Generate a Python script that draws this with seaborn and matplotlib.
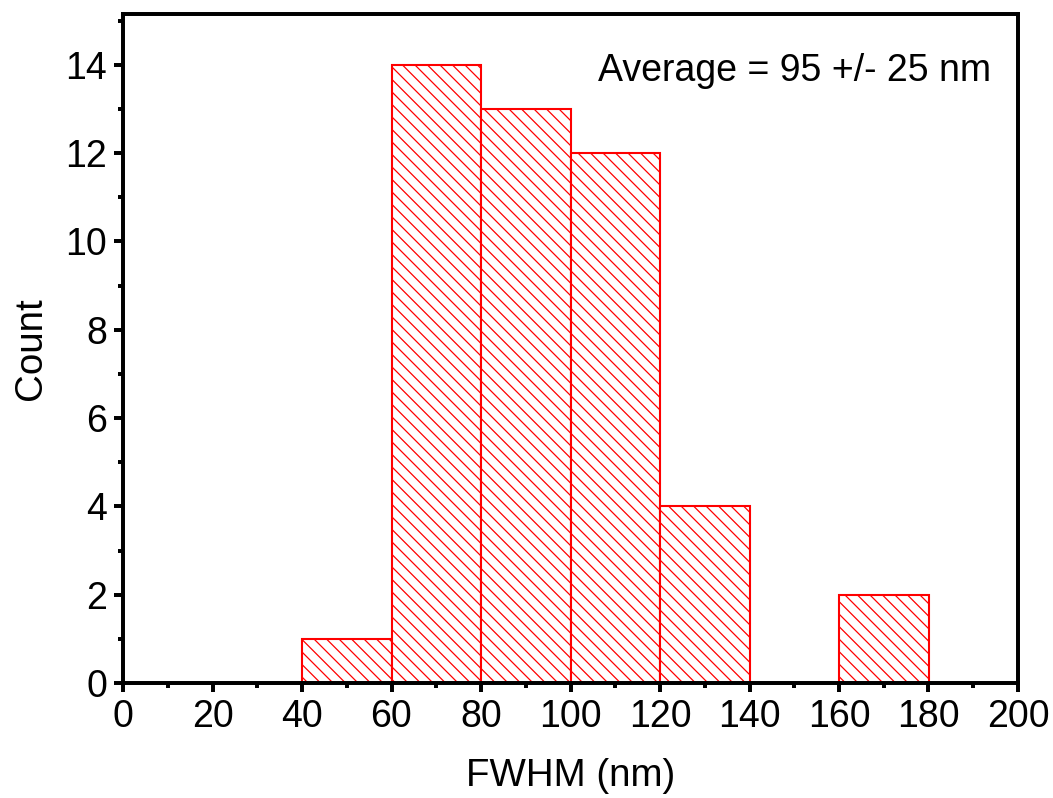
import seaborn as sns
import numpy as np
import matplotlib.pyplot as plt
from matplotlib.ticker import MultipleLocator

# histogram bins
bin_edges = [40, 60, 80, 100, 120, 140, 160, 180]
bin_centers = [50, 70, 90, 110, 130, 150, 170]
counts = [1, 14, 13, 12, 4, 0, 2]
x_ticks = [0, 20, 40, 60, 80, 100, 120, 140, 160, 180, 200]
y_ticks = [0, 2, 4, 6, 8, 10, 12, 14]

sns.set_style("ticks")
plt.rcParams['font.family'] = ['Liberation Sans', 'DejaVu Sans']
plt.rcParams['hatch.color'] = 'red'
plt.rcParams['hatch.linewidth'] = 0.6
plt.rcParams['text.color'] = 'black'
plt.rcParams['axes.labelcolor'] = 'black'

fig = plt.figure(figsize=(1053 / 150, 798 / 150), dpi=150)
ax = fig.add_axes([123 / 1053, 1 - 683 / 798, (1018 - 123) / 1053, (683 - 14) / 798])

sns.histplot(x=bin_centers, weights=counts, bins=bin_edges, ax=ax,
             facecolor='white', edgecolor='red', hatch='\\\\\\\\',
             linewidth=1.0, alpha=1)

ax.set_xlim(0, 200)
ax.set_ylim(0, 15.15)
ax.set_xticks(x_ticks)
ax.set_yticks(y_ticks)
ax.xaxis.set_minor_locator(MultipleLocator(10))
ax.yaxis.set_minor_locator(MultipleLocator(1))
ax.tick_params(which='major', direction='out', length=4.5, width=1.9,
               labelsize=18, pad=3, colors='black')
ax.tick_params(which='minor', direction='out', length=2.5, width=1.9, colors='black')
for s in ax.spines.values():
    s.set_linewidth(1.9)
    s.set_color('black')

ax.set_xlabel('FWHM (nm)', fontsize=18.5, labelpad=11)
ax.set_ylabel('Count', fontsize=18.5, labelpad=8)
ax.text(0.97, 0.915, 'Average = 95 +/- 25 nm', transform=ax.transAxes,
        ha='right', va='center', fontsize=18)

fig.savefig('out.png', dpi=150)
